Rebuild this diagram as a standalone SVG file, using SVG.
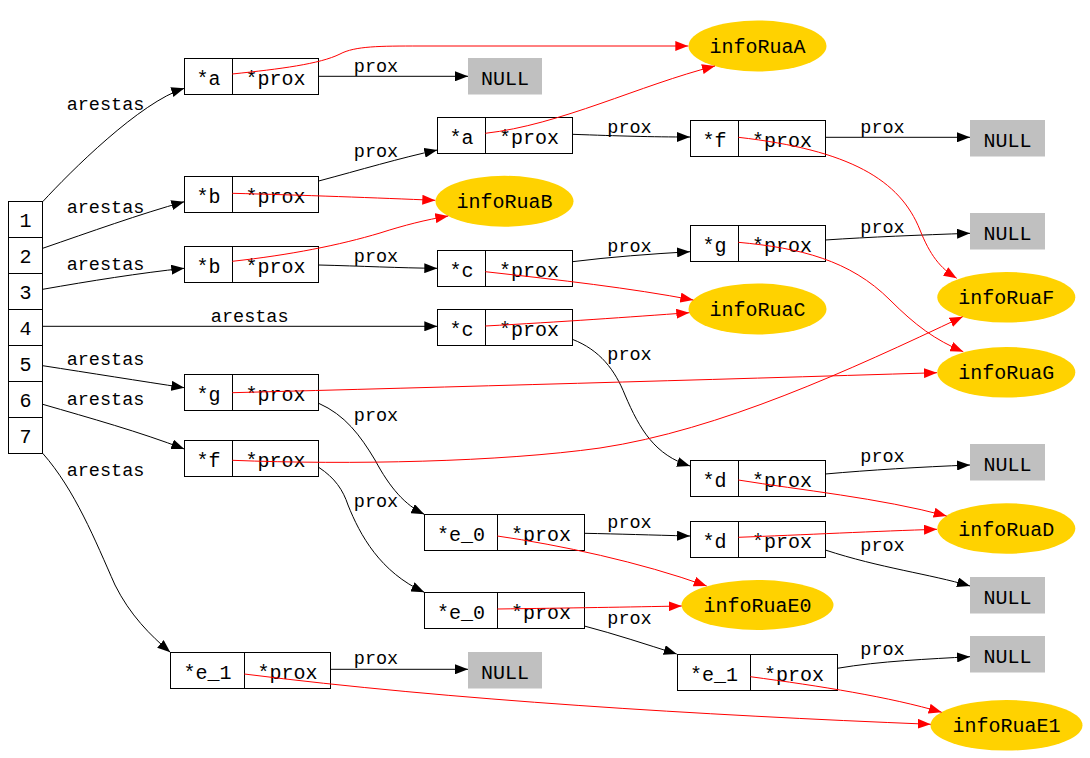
<svg xmlns="http://www.w3.org/2000/svg" width="1090" height="758" viewBox="0 0 1090 758">
  <style>
    text { font-family: "Liberation Mono", "DejaVu Sans Mono", monospace; fill: #000; }
    .nt { font-size: 20px; text-anchor: middle; }
    .el { font-size: 18.5px; text-anchor: middle; }
    .rec { fill: #fff; stroke: #000; stroke-width: 1; }
    .div { stroke: #000; stroke-width: 1; }
    .null { fill: #c0c0c0; stroke: none; }
    .info { fill: #ffd200; stroke: none; }
    .e { fill: none; stroke: #000; stroke-width: 1; marker-end: url(#ahk); }
    .r { fill: none; stroke: #ff0000; stroke-width: 1; marker-end: url(#ahr); }
  </style>
  <defs>
    <marker id="ahk" viewBox="0 0 13 10" refX="13" refY="5" markerWidth="13" markerHeight="10" markerUnits="userSpaceOnUse" orient="auto">
      <path d="M0,0 L13,5 L0,10 z" fill="#000"/>
    </marker>
    <marker id="ahr" viewBox="0 0 13 10" refX="13" refY="5" markerWidth="13" markerHeight="10" markerUnits="userSpaceOnUse" orient="auto">
      <path d="M0,0 L13,5 L0,10 z" fill="#ff0000"/>
    </marker>
  </defs>
  <rect width="1090" height="758" fill="#fff"/>

  <!-- vertex array -->
  <g id="vertices">
    <rect class="rec" x="8.5" y="201.5" width="34" height="252"/>
    <line class="div" x1="8.5" y1="237.5" x2="42.5" y2="237.5"/>
    <line class="div" x1="8.5" y1="273.5" x2="42.5" y2="273.5"/>
    <line class="div" x1="8.5" y1="309.5" x2="42.5" y2="309.5"/>
    <line class="div" x1="8.5" y1="345.5" x2="42.5" y2="345.5"/>
    <line class="div" x1="8.5" y1="381.5" x2="42.5" y2="381.5"/>
    <line class="div" x1="8.5" y1="417.5" x2="42.5" y2="417.5"/>
    <text class="nt" x="25.5" y="226.5">1</text>
    <text class="nt" x="25.5" y="262.5">2</text>
    <text class="nt" x="25.5" y="298.5">3</text>
    <text class="nt" x="25.5" y="334.5">4</text>
    <text class="nt" x="25.5" y="370.5">5</text>
    <text class="nt" x="25.5" y="406.5">6</text>
    <text class="nt" x="25.5" y="442.5">7</text>
  </g>

  <!-- edge records -->
  <g id="rec_a1"><rect class="rec" x="184.5" y="58.5" width="134" height="36"/><line class="div" x1="232.5" y1="58.5" x2="232.5" y2="94.5"/><text class="nt" x="208.5" y="84.5">*a</text><text class="nt" x="275.5" y="84.5">*prox</text></g>
  <g id="rec_b1"><rect class="rec" x="184.5" y="176.5" width="134" height="36"/><line class="div" x1="232.5" y1="176.5" x2="232.5" y2="212.5"/><text class="nt" x="208.5" y="202.5">*b</text><text class="nt" x="275.5" y="202.5">*prox</text></g>
  <g id="rec_b2"><rect class="rec" x="184.5" y="246.5" width="134" height="36"/><line class="div" x1="232.5" y1="246.5" x2="232.5" y2="282.5"/><text class="nt" x="208.5" y="272.5">*b</text><text class="nt" x="275.5" y="272.5">*prox</text></g>
  <g id="rec_g1"><rect class="rec" x="184.5" y="374.5" width="134" height="36"/><line class="div" x1="232.5" y1="374.5" x2="232.5" y2="410.5"/><text class="nt" x="208.5" y="400.5">*g</text><text class="nt" x="275.5" y="400.5">*prox</text></g>
  <g id="rec_f1"><rect class="rec" x="184.5" y="440.5" width="134" height="36"/><line class="div" x1="232.5" y1="440.5" x2="232.5" y2="476.5"/><text class="nt" x="208.5" y="466.5">*f</text><text class="nt" x="275.5" y="466.5">*prox</text></g>
  <g id="rec_e1a"><rect class="rec" x="170.5" y="652.5" width="160" height="36"/><line class="div" x1="244.5" y1="652.5" x2="244.5" y2="688.5"/><text class="nt" x="207.5" y="678.5">*e_1</text><text class="nt" x="287.5" y="678.5">*prox</text></g>
  <g id="rec_a2"><rect class="rec" x="437.5" y="117.5" width="135" height="36"/><line class="div" x1="485.5" y1="117.5" x2="485.5" y2="153.5"/><text class="nt" x="461.5" y="143.5">*a</text><text class="nt" x="529" y="143.5">*prox</text></g>
  <g id="rec_c1"><rect class="rec" x="437.5" y="250.5" width="135" height="36"/><line class="div" x1="485.5" y1="250.5" x2="485.5" y2="286.5"/><text class="nt" x="461.5" y="276.5">*c</text><text class="nt" x="529" y="276.5">*prox</text></g>
  <g id="rec_c2"><rect class="rec" x="437.5" y="309.5" width="135" height="36"/><line class="div" x1="485.5" y1="309.5" x2="485.5" y2="345.5"/><text class="nt" x="461.5" y="335.5">*c</text><text class="nt" x="529" y="335.5">*prox</text></g>
  <g id="rec_e0a"><rect class="rec" x="424.5" y="514.5" width="160" height="36"/><line class="div" x1="497.5" y1="514.5" x2="497.5" y2="550.5"/><text class="nt" x="461" y="540.5">*e_0</text><text class="nt" x="541" y="540.5">*prox</text></g>
  <g id="rec_e0b"><rect class="rec" x="424.5" y="592.5" width="160" height="36"/><line class="div" x1="497.5" y1="592.5" x2="497.5" y2="628.5"/><text class="nt" x="461" y="618.5">*e_0</text><text class="nt" x="541" y="618.5">*prox</text></g>
  <g id="rec_f2"><rect class="rec" x="690.5" y="120.5" width="135" height="36"/><line class="div" x1="738.5" y1="120.5" x2="738.5" y2="156.5"/><text class="nt" x="714.5" y="146.5">*f</text><text class="nt" x="782" y="146.5">*prox</text></g>
  <g id="rec_g2"><rect class="rec" x="690.5" y="225.5" width="135" height="36"/><line class="div" x1="738.5" y1="225.5" x2="738.5" y2="261.5"/><text class="nt" x="714.5" y="251.5">*g</text><text class="nt" x="782" y="251.5">*prox</text></g>
  <g id="rec_d1"><rect class="rec" x="690.5" y="460.5" width="135" height="36"/><line class="div" x1="738.5" y1="460.5" x2="738.5" y2="496.5"/><text class="nt" x="714.5" y="486.5">*d</text><text class="nt" x="782" y="486.5">*prox</text></g>
  <g id="rec_d2"><rect class="rec" x="690.5" y="521.5" width="135" height="36"/><line class="div" x1="738.5" y1="521.5" x2="738.5" y2="557.5"/><text class="nt" x="714.5" y="547.5">*d</text><text class="nt" x="782" y="547.5">*prox</text></g>
  <g id="rec_e1b"><rect class="rec" x="677.5" y="654.5" width="160" height="36"/><line class="div" x1="750.5" y1="654.5" x2="750.5" y2="690.5"/><text class="nt" x="714" y="680.5">*e_1</text><text class="nt" x="794" y="680.5">*prox</text></g>

  <!-- NULL terminators -->
  <g id="null_1"><rect class="null" x="468" y="58" width="74" height="36.5"/><text class="nt" x="505" y="84.5">NULL</text></g>
  <g id="null_2"><rect class="null" x="970" y="120" width="75" height="36.5"/><text class="nt" x="1007.5" y="146.5">NULL</text></g>
  <g id="null_3"><rect class="null" x="970" y="213" width="75" height="36.5"/><text class="nt" x="1007.5" y="239.5">NULL</text></g>
  <g id="null_4"><rect class="null" x="970" y="444" width="75" height="36.5"/><text class="nt" x="1007.5" y="470.5">NULL</text></g>
  <g id="null_5"><rect class="null" x="970" y="577" width="75" height="36.5"/><text class="nt" x="1007.5" y="603.5">NULL</text></g>
  <g id="null_6"><rect class="null" x="970" y="636" width="75" height="36.5"/><text class="nt" x="1007.5" y="662.5">NULL</text></g>
  <g id="null_7"><rect class="null" x="468" y="652" width="74" height="36.5"/><text class="nt" x="505" y="678.5">NULL</text></g>

  <!-- street info -->
  <g id="infoRuaA"><ellipse class="info" cx="757.5" cy="46" rx="69" ry="25.5"/><text class="nt" x="757.5" y="53">infoRuaA</text></g>
  <g id="infoRuaB"><ellipse class="info" cx="504.5" cy="201.3" rx="69" ry="25.5"/><text class="nt" x="504.5" y="208.3">infoRuaB</text></g>
  <g id="infoRuaC"><ellipse class="info" cx="757.5" cy="309" rx="69" ry="25.5"/><text class="nt" x="757.5" y="316">infoRuaC</text></g>
  <g id="infoRuaF"><ellipse class="info" cx="1006.3" cy="297.3" rx="69" ry="25.3"/><text class="nt" x="1006.3" y="304.3">infoRuaF</text></g>
  <g id="infoRuaG"><ellipse class="info" cx="1006.3" cy="372.3" rx="69" ry="25.3"/><text class="nt" x="1006.3" y="379.3">infoRuaG</text></g>
  <g id="infoRuaD"><ellipse class="info" cx="1006.3" cy="528.5" rx="69" ry="25.3"/><text class="nt" x="1006.3" y="535.5">infoRuaD</text></g>
  <g id="infoRuaE0"><ellipse class="info" cx="757.5" cy="605" rx="76" ry="25"/><text class="nt" x="757.5" y="612">infoRuaE0</text></g>
  <g id="infoRuaE1"><ellipse class="info" cx="1006.5" cy="725.3" rx="76" ry="25.3"/><text class="nt" x="1006.5" y="732.3">infoRuaE1</text></g>

  <!-- connectors, drawn over the records -->
  <g id="connectors">
    <!-- arestas -->
    <path class="e" d="M42.7,201.7 C70,172 140,102 184.3,88.3"/>
    <path class="e" d="M42.7,248.3 C90,232 140,214 184.3,201.7"/>
    <path class="e" d="M42.7,289.3 C90,281 140,273 184.3,268.3"/>
    <path class="e" d="M42.7,326.3 L437.3,326.3"/>
    <path class="e" d="M42.7,365.7 C90,373 140,381 184.3,387.7"/>
    <path class="e" d="M42.7,404.3 C90,418 140,432 184.3,449"/>
    <path class="e" d="M42.7,453.3 C75,490 95,540 115,585 C130,615 150,635 170.3,652.3"/>
    <!-- prox -->
    <path class="e" d="M318.7,76.3 L468,76.3"/>
    <path class="e" d="M318.7,181 C360,170 400,158 437.3,150"/>
    <path class="e" d="M318.7,265 C360,266 400,268 437.3,268.3"/>
    <path class="e" d="M572.3,134.3 C620,136 650,137 690,137"/>
    <path class="e" d="M825.3,137.3 L970,137.3"/>
    <path class="e" d="M572.3,261.7 C610,257 650,254 690,251.7"/>
    <path class="e" d="M825.3,240 C870,237 920,235 970,233.3"/>
    <path class="e" d="M572.3,339.3 C600,350 615,370 625,395 C640,430 655,455 690,466"/>
    <path class="e" d="M318.7,403.3 C345,415 360,435 375,460 C390,488 405,505 424.3,514.3"/>
    <path class="e" d="M318.7,467.3 C335,478 343,490 348,505 C360,535 380,572 424.3,592.3"/>
    <path class="e" d="M825.3,474 C870,470 920,467 970,465"/>
    <path class="e" d="M584.3,533.3 C620,534 650,535 690,536"/>
    <path class="e" d="M825.3,550 C880,568 930,574 970,586"/>
    <path class="e" d="M584.3,626 C615,634 645,644 676.7,654"/>
    <path class="e" d="M837.3,668.3 C880,661 930,659 970,656.7"/>
    <path class="e" d="M330.3,669.3 L468,669.3"/>
    <!-- info pointers -->
    <path class="r" d="M232.3,74 C280,69 320,64 340,54 C355,46 380,46 420,46 L688.3,46"/>
    <path class="r" d="M232.3,193.3 C300,195 380,198 435.3,200.3"/>
    <path class="r" d="M232.3,261.3 C290,255 340,245 380,233 C405,225 425,220 448.3,216"/>
    <path class="r" d="M485.3,133.3 C560,125 640,85 715,66"/>
    <path class="r" d="M738.3,137.3 C850,150 900,180 920,230 C930,255 940,268 956.7,278.3"/>
    <path class="r" d="M738.3,242.3 C800,248 850,260 890,300 C915,325 935,340 963.3,351.7"/>
    <path class="r" d="M485.3,271.7 C560,280 630,288 693.3,300"/>
    <path class="r" d="M485.3,326 C560,322 630,317 689.3,312.7"/>
    <path class="r" d="M232.3,392.7 C450,387 700,380 937,372.7"/>
    <path class="r" d="M232.3,460.3 C350,465 500,462 600,448 C720,430 850,370 962.7,316.7"/>
    <path class="r" d="M738.3,480 C800,490 880,498 946.7,516"/>
    <path class="r" d="M738.3,537.3 C800,535 880,531 937,529.3"/>
    <path class="r" d="M497.3,536 C560,545 640,562 706.7,586"/>
    <path class="r" d="M497.3,609 C570,608 630,607 681.7,606"/>
    <path class="r" d="M750.3,676.7 C820,686 890,697 941.7,712.3"/>
    <path class="r" d="M244.3,674 C450,700 700,715 930.7,724.3"/>
    <!-- edge labels -->
    <text class="el" x="105.5" y="110">arestas</text>
    <text class="el" x="105.5" y="213">arestas</text>
    <text class="el" x="105.5" y="270">arestas</text>
    <text class="el" x="249.7" y="321.5">arestas</text>
    <text class="el" x="105.5" y="365">arestas</text>
    <text class="el" x="105.5" y="405">arestas</text>
    <text class="el" x="105.5" y="475.5">arestas</text>
    <text class="el" x="376" y="72">prox</text>
    <text class="el" x="376" y="157">prox</text>
    <text class="el" x="629.5" y="133">prox</text>
    <text class="el" x="882.5" y="133">prox</text>
    <text class="el" x="882.5" y="233">prox</text>
    <text class="el" x="629.5" y="252">prox</text>
    <text class="el" x="376" y="262">prox</text>
    <text class="el" x="629.5" y="360">prox</text>
    <text class="el" x="376" y="421">prox</text>
    <text class="el" x="376" y="507">prox</text>
    <text class="el" x="882.5" y="462">prox</text>
    <text class="el" x="629.5" y="528">prox</text>
    <text class="el" x="882.5" y="551">prox</text>
    <text class="el" x="629.5" y="624">prox</text>
    <text class="el" x="882.5" y="655">prox</text>
    <text class="el" x="376" y="664">prox</text>
  </g>
</svg>
